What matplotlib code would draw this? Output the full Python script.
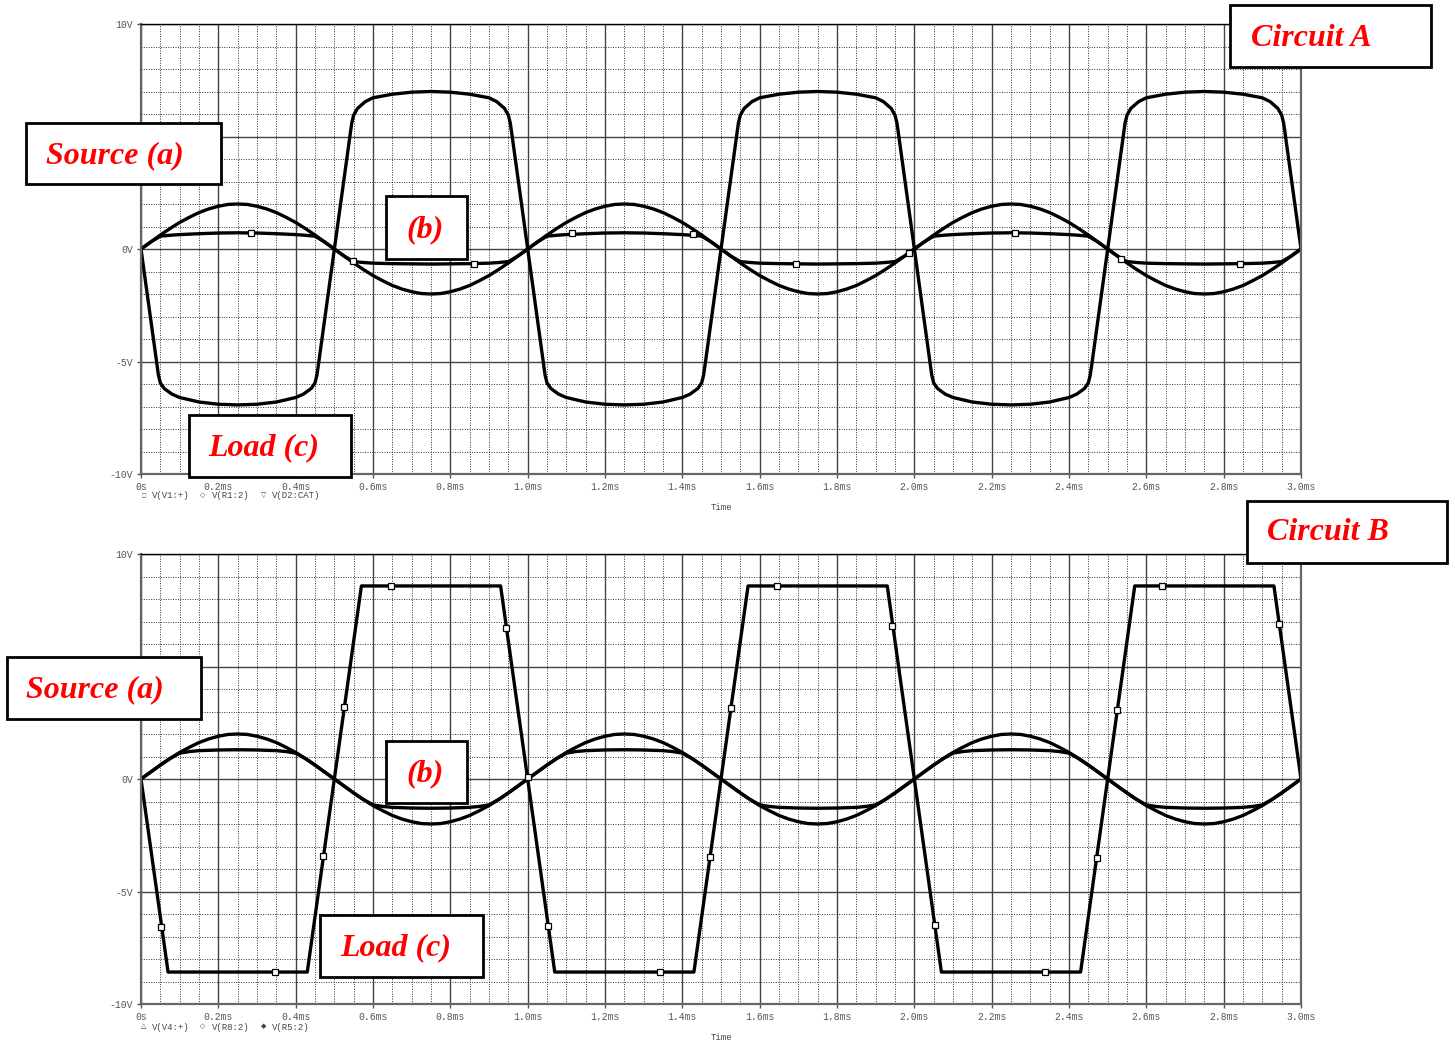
import numpy as np
import matplotlib
matplotlib.use("Agg")
import matplotlib.pyplot as plt
from matplotlib.patches import Rectangle

W, H = 1455, 1042

# ---- data, one 1 ms cycle (repeats 3 times) ----
# source (a), same in both circuits, sampled every 0.025 ms
src_cycle = [0.0, 0.31, 0.62, 0.91, 1.18, 1.41, 1.62, 1.78, 1.90, 1.98,
             2.0, 1.98, 1.90, 1.78, 1.62, 1.41, 1.18, 0.91, 0.62, 0.31,
             0.0, -0.31, -0.62, -0.91, -1.18, -1.41, -1.62, -1.78, -1.90, -1.98,
             -2.0, -1.98, -1.90, -1.78, -1.62, -1.41, -1.18, -0.91, -0.62, -0.31]

# circuit A
tA_b = [0.0, 0.025, 0.05, 0.075, 0.1, 0.15, 0.2, 0.25, 0.3, 0.35, 0.4, 0.425, 0.45, 0.475,
        0.5, 0.525, 0.55, 0.575, 0.6, 0.65, 0.7, 0.75, 0.8, 0.85, 0.9, 0.925, 0.95, 0.975]
vA_b = [0.0, 0.31, 0.57, 0.61, 0.64, 0.68, 0.71, 0.72, 0.71, 0.68, 0.64, 0.61, 0.57, 0.31,
        0.0, -0.31, -0.56, -0.60, -0.63, -0.65, -0.66, -0.67, -0.66, -0.65, -0.63, -0.60, -0.56, -0.31]

tA_c = [0.0, 0.01, 0.02, 0.03, 0.04, 0.045, 0.05, 0.06, 0.08, 0.10, 0.15, 0.20, 0.25,
        0.30, 0.35, 0.40, 0.42, 0.44, 0.45, 0.455, 0.46, 0.47, 0.48, 0.49,
        0.5, 0.51, 0.52, 0.53, 0.54, 0.545, 0.55, 0.56, 0.58, 0.60, 0.65, 0.70, 0.75,
        0.80, 0.85, 0.90, 0.92, 0.94, 0.95, 0.955, 0.96, 0.97, 0.98, 0.99]
vA_c = [0.0, -1.25, -2.5, -3.75, -5.0, -5.6, -5.95, -6.2, -6.45, -6.6, -6.8, -6.9, -6.93,
        -6.9, -6.8, -6.6, -6.45, -6.2, -5.95, -5.6, -5.0, -3.75, -2.5, -1.25,
        0.0, 1.25, 2.5, 3.75, 5.0, 5.6, 5.95, 6.25, 6.55, 6.72, 6.88, 6.97, 7.0,
        6.97, 6.88, 6.72, 6.55, 6.25, 5.95, 5.6, 5.0, 3.75, 2.5, 1.25]

mkA_t = [0.284, 0.548, 0.861, 1.115, 1.428, 1.694, 1.986, 2.260, 2.534, 2.842]
mkA_v = [0.71, -0.55, -0.67, 0.70, 0.66, -0.67, -0.18, 0.71, -0.45, -0.67]

# circuit B
tB_b = [0.0, 0.025, 0.05, 0.075, 0.1, 0.125, 0.15, 0.2, 0.25, 0.3, 0.35, 0.375, 0.4, 0.425, 0.45, 0.475,
        0.5, 0.525, 0.55, 0.575, 0.6, 0.625, 0.65, 0.7, 0.75, 0.8, 0.85, 0.875, 0.9, 0.925, 0.95, 0.975]
vB_b = [0.0, 0.31, 0.62, 0.91, 1.15, 1.22, 1.26, 1.29, 1.30, 1.29, 1.26, 1.22, 1.15, 0.91, 0.62, 0.31,
        0.0, -0.31, -0.62, -0.91, -1.15, -1.22, -1.26, -1.29, -1.30, -1.29, -1.26, -1.22, -1.15, -0.91, -0.62, -0.31]

tB_c = [0.0, 0.07, 0.43, 0.5, 0.57, 0.93]
vB_c = [0.0, -8.58, -8.58, 0.0, 8.58, 8.58]

mkB_t = [0.052, 0.347, 0.471, 0.525, 0.647, 0.944, 1.0, 1.053, 1.342, 1.472, 1.526, 1.645,
         1.942, 2.053, 2.338, 2.472, 2.524, 2.641, 2.943]
mkB_v = [-6.58, -8.58, -3.42, 3.2, 8.58, 6.71, 0.1, -6.53, -8.58, -3.47, 3.16, 8.58,
         6.8, -6.49, -8.58, -3.51, 3.07, 8.58, 6.89]

n_cycles = 3
x_ticks = [0.0, 0.2, 0.4, 0.6, 0.8, 1.0, 1.2, 1.4, 1.6, 1.8, 2.0, 2.2, 2.4, 2.6, 2.8, 3.0]
x_labels = ["0s", "0.2ms", "0.4ms", "0.6ms", "0.8ms", "1.0ms", "1.2ms", "1.4ms", "1.6ms",
            "1.8ms", "2.0ms", "2.2ms", "2.4ms", "2.6ms", "2.8ms", "3.0ms"]
y_ticks = [-10, -5, 0, 5, 10]
# the 5V label sits under the "Source (a)" box in the original
y_labels = ["-10V", "-5V", "0V", "", "10V"]


def repeat(t, v):
    # stitch the 1 ms cycle into the 3 ms trace, closing at 0 V
    tt = np.concatenate([np.asarray(t) + k for k in range(n_cycles)] + [[float(n_cycles)]])
    vv = np.concatenate([np.asarray(v)] * n_cycles + [[0.0]])
    return tt, vv


t_src = np.arange(len(src_cycle))*0.025


def setup(ax):
    ax.set_xlim(0, 3)
    ax.set_ylim(-10, 10)
    ax.set_xticks(x_ticks)
    ax.set_xticklabels(x_labels)
    ax.set_xticks(np.arange(0, 3.001, 0.05), minor=True)
    ax.set_yticks(y_ticks)
    ax.set_yticklabels(y_labels)
    ax.set_yticks(np.arange(-10, 10.1, 1), minor=True)
    ax.grid(which="major", color="#444444", ls="-", lw=1.0)
    ax.grid(which="minor", color="#333333", ls=(0, (1, 1.5)), lw=0.7)
    ax.tick_params(which="minor", length=0)
    ax.tick_params(which="major", length=3, width=1, color="#555555",
                   labelsize=7, labelcolor="#555555", pad=3)
    for lab in ax.get_xticklabels() + ax.get_yticklabels():
        lab.set_family("Liberation Mono")
    for s in ["left", "right", "bottom"]:
        ax.spines[s].set_color("#666666")
        ax.spines[s].set_linewidth(1.6)
    ax.spines["top"].set_color("black")
    ax.spines["top"].set_linewidth(1.0)
    ax.set_axisbelow(True)


fig = plt.figure(figsize=(W/100, H/100), dpi=100)
ax1 = fig.add_axes([141/W, 1-474/H, 1160/W, 450/H])
ax2 = fig.add_axes([141/W, 1-1004/H, 1160/W, 450/H])

for ax, (tb, vb), (tc, vc), mt, mv in [
        (ax1, (tA_b, vA_b), (tA_c, vA_c), mkA_t, mkA_v),
        (ax2, (tB_b, vB_b), (tB_c, vB_c), mkB_t, mkB_v)]:
    setup(ax)
    ts, vs = repeat(t_src, src_cycle)
    ax.plot(ts, vs, color="black", lw=2.4, solid_joinstyle="round")
    ts, vs = repeat(tb, vb)
    ax.plot(ts, vs, color="black", lw=2.4, solid_joinstyle="round")
    ts, vs = repeat(tc, vc)
    ax.plot(ts, vs, color="black", lw=2.4, solid_joinstyle="round")
    ax.plot(mt, mv, ls="none", marker="s", ms=5, mfc="white", mec="black", mew=0.9, zorder=5)


def ftext(x, y, s, **kw):
    fig.text(x/W, 1-y/H, s, **kw)


mono = dict(family=["Liberation Mono", "DejaVu Sans"], fontsize=6.5, color="#444444", va="center")
for y0, items in [(496, [(144, "□"), (152, "V(V1:+)"), (203, "◇"), (212, "V(R1:2)"), (264, "▽"), (272, "V(D2:CAT)")]),
                  (1027, [(144, "△"), (152, "V(V4:+)"), (203, "◇"), (212, "V(R8:2)"), (264, "◆"), (272, "V(R5:2)")])]:
    for x0, s in items:
        if len(s) == 1:
            ftext(x0, y0, s, ha="center", **{**mono, "fontsize": 5})
        else:
            ftext(x0, y0, s, ha="left", **mono)
ftext(721, 508, "Time", ha="center", **mono)
ftext(721, 1038, "Time", ha="center", **mono)

# red labels in boxes: (box x0, y0, x1, y1, text x, text y, text)
boxes = [(1230, 5, 1431, 67, 1311, 38, "Circuit A"),
         (26, 123, 221, 184, 115, 156, "Source (a)"),
         (386, 196, 467, 259, 425, 230, "(b)"),
         (189, 415, 351, 477, 264, 448, "Load (c)"),
         (1247, 501, 1447, 563, 1328, 533, "Circuit B"),
         (7, 657, 201, 719, 95, 690, "Source (a)"),
         (386, 741, 467, 803, 425, 774, "(b)"),
         (320, 915, 483, 977, 396, 948, "Load (c)")]
for x0, y0, x1, y1, tx, ty, s in boxes:
    fig.add_artist(Rectangle((x0/W, 1-y1/H), (x1-x0)/W, (y1-y0)/H, transform=fig.transFigure,
                             facecolor="white", edgecolor="black", lw=2.0, zorder=10))
    fig.text(tx/W, 1-ty/H, s, ha="center", va="center", color="red", fontsize=23,
             family="Liberation Serif", fontweight="bold", fontstyle="italic", zorder=11)

fig.savefig("out.png", dpi=100)
